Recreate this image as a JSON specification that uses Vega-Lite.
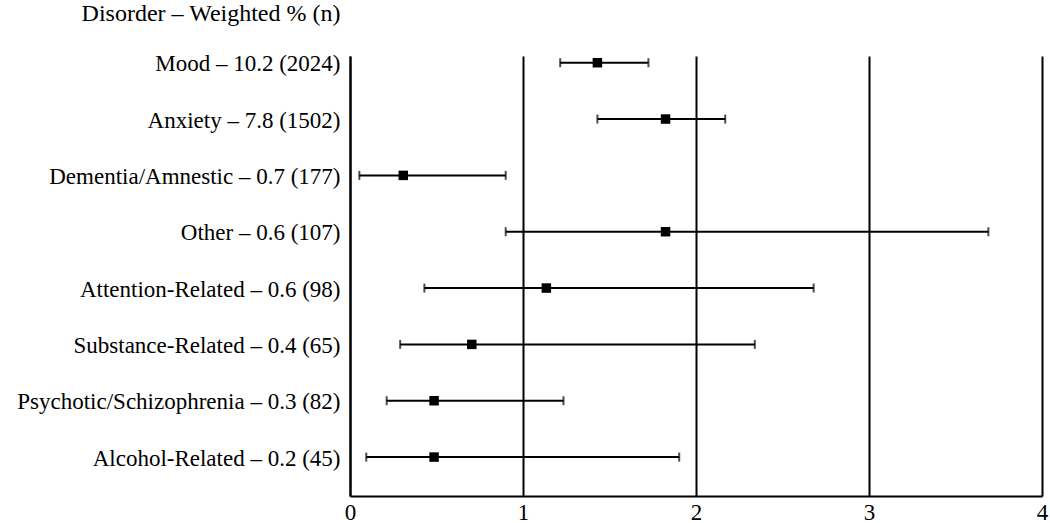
{
  "$schema": "https://vega.github.io/schema/vega-lite/v6.json",
  "autosize": {"type": "none"},
  "padding": {"left": 350, "top": 56, "right": 8, "bottom": 27},
  "width": 692,
  "height": 440,
  "background": "white",
  "config": {
    "view": {"stroke": null},
    "font": "Liberation Serif"
  },
  "data": {
    "values": [
      {"disorder": "Mood – 10.2 (2024)", "est": 1.43, "lo": 1.215, "hi": 1.725},
      {"disorder": "Anxiety – 7.8 (1502)", "est": 1.824, "lo": 1.43, "hi": 2.169},
      {"disorder": "Dementia/Amnestic – 0.7 (177)", "est": 0.308, "lo": 0.054, "hi": 0.9},
      {"disorder": "Other – 0.6 (107)", "est": 1.824, "lo": 0.9, "hi": 3.69},
      {"disorder": "Attention-Related – 0.6 (98)", "est": 1.135, "lo": 0.43, "hi": 2.68},
      {"disorder": "Substance-Related – 0.4 (65)", "est": 0.704, "lo": 0.29, "hi": 2.34},
      {"disorder": "Psychotic/Schizophrenia – 0.3 (82)", "est": 0.486, "lo": 0.212, "hi": 1.234},
      {"disorder": "Alcohol-Related – 0.2 (45)", "est": 0.486, "lo": 0.094, "hi": 1.903}
    ]
  },
  "encoding": {
    "y": {
      "field": "disorder",
      "type": "nominal",
      "sort": null,
      "scale": {"type": "point", "padding": 0.405, "align": 0.147},
      "axis": {
        "title": "Disorder – Weighted % (n)",
        "titleAngle": 0,
        "titleX": -10,
        "titleY": -43,
        "titleAlign": "right",
        "titleBaseline": "middle",
        "titleFont": "Liberation Serif",
        "titleFontSize": 24,
        "titleFontWeight": "normal",
        "titleColor": "black",
        "domain": true,
        "domainColor": "black",
        "domainWidth": 2,
        "ticks": false,
        "grid": false,
        "labelFont": "Liberation Serif",
        "labelFontSize": 23,
        "labelColor": "black",
        "labelPadding": 10,
        "labelLimit": 400,
        "labelOffset": 1
      }
    }
  },
  "layer": [
    {
      "mark": {"type": "rule", "color": "black", "strokeWidth": 2},
      "encoding": {
        "x": {
          "field": "lo",
          "type": "quantitative",
          "scale": {"domain": [0, 4], "nice": false, "zero": false},
          "axis": {
            "title": null,
            "values": [0, 1, 2, 3, 4],
            "format": "d",
            "grid": true,
            "gridColor": "black",
            "gridWidth": 2,
            "gridOpacity": 1,
            "domain": true,
            "domainColor": "black",
            "domainWidth": 2,
            "ticks": false,
            "labelFont": "Liberation Serif",
            "labelFontSize": 23,
            "labelColor": "black",
            "labelPadding": 5,
            "labelFlush": false
          }
        },
        "x2": {"field": "hi"}
      }
    },
    {
      "mark": {"type": "tick", "color": "black", "thickness": 2, "size": 9, "orient": "vertical"},
      "encoding": {"x": {"field": "lo", "type": "quantitative"}}
    },
    {
      "mark": {"type": "tick", "color": "black", "thickness": 2, "size": 9, "orient": "vertical"},
      "encoding": {"x": {"field": "hi", "type": "quantitative"}}
    },
    {
      "mark": {"type": "point", "shape": "square", "filled": true, "color": "black", "opacity": 1, "size": 90},
      "encoding": {"x": {"field": "est", "type": "quantitative"}}
    }
  ]
}
